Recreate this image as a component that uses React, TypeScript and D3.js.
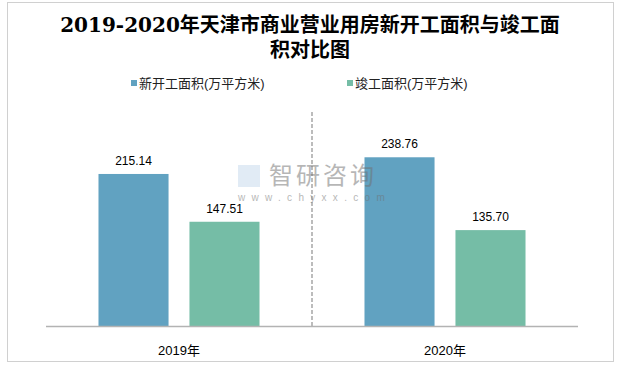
import { useRef, useEffect } from "react";
import * as d3 from "d3";

const years = ["2019年", "2020年"];
const seriesNames = ["新开工面积(万平方米)", "竣工面积(万平方米)"];
const newStarts = [215.14, 238.76];
const completed = [147.51, 135.7];
const colors = ["#61a2c1", "#75bda6"];

const title1 = "2019-2020年天津市商业营业用房新开工面积与竣工面";
const title2 = "积对比图";

const App = () => {
  const svgRef = useRef<SVGSVGElement>(null);

  useEffect(() => {
    const svg = d3.select(svgRef.current);
    svg.selectAll("*").remove();

    const width = 617;
    const height = 366;
    const margin = { top: 114, right: 39, bottom: 40, left: 46 };
    const innerWidth = width - margin.left - margin.right;
    const innerHeight = height - margin.top - margin.bottom;

    svg.attr("width", width).attr("height", height);

    // outer frame
    svg
      .append("rect")
      .attr("x", 7.5)
      .attr("y", 2.5)
      .attr("width", 606)
      .attr("height", 359)
      .attr("fill", "#fff")
      .attr("stroke", "#a0a0a0")
      .attr("stroke-dasharray", "1,1");

    const font = "'Liberation Sans', Arial, 'Noto Sans CJK SC', sans-serif";

    // title
    const title = svg
      .append("text")
      .attr("text-anchor", "middle")
      .attr("font-family", "'DejaVu Serif', 'Noto Sans CJK SC', serif")
      .attr("font-weight", 600)
      .attr("font-size", 20)
      .attr("fill", "#000");
    title.append("tspan").attr("x", 310).attr("y", 32).text(title1);
    title.append("tspan").attr("x", 310).attr("y", 57).text(title2);

    // legend
    const legendX = [131, 347];
    seriesNames.forEach((name, i) => {
      const g = svg.append("g").attr("transform", `translate(${legendX[i]}, 83)`);
      g.append("rect")
        .attr("x", 0)
        .attr("y", -3)
        .attr("width", 6)
        .attr("height", 6)
        .attr("fill", colors[i]);
      g.append("text")
        .attr("x", 8)
        .attr("y", 0)
        .attr("dy", "0.35em")
        .attr("font-family", font)
        .attr("font-size", 13)
        .attr("fill", "#222")
        .text(name);
    });

    const chart = svg
      .append("g")
      .attr("transform", `translate(${margin.left}, ${margin.top})`);

    const x0 = d3.scaleBand().domain(years).range([0, innerWidth]).padding(0);
    const x1 = d3
      .scaleBand()
      .domain(["0", "1"])
      .range([0, x0.bandwidth()])
      .paddingInner(0.23)
      .paddingOuter(0.577);
    const y = d3.scaleLinear().domain([0, 300]).range([innerHeight, 0]);

    // watermark
    const wm = svg.append("g").attr("opacity", 0.5);
    wm.append("rect")
      .attr("x", 238)
      .attr("y", 165)
      .attr("width", 22)
      .attr("height", 22)
      .attr("fill", "#9fbfe0")
      .attr("opacity", 0.6);
    wm.append("text")
      .attr("x", 269)
      .attr("y", 184)
      .attr("font-family", "'Noto Sans CJK SC', sans-serif")
      .attr("font-size", 24)
      .attr("fill", "#707070")
      .attr("letter-spacing", 3)
      .text("智研咨询");
    wm.append("text")
      .attr("x", 238)
      .attr("y", 201)
      .attr("font-family", font)
      .attr("font-size", 10)
      .attr("fill", "#707070")
      .attr("letter-spacing", 6.3)
      .text("www.chyxx.com");

    // separator dashed line
    chart
      .append("line")
      .attr("x1", x0.bandwidth())
      .attr("x2", x0.bandwidth())
      .attr("y1", -2)
      .attr("y2", innerHeight)
      .attr("stroke", "#a6a6a6")
      .attr("stroke-width", 1.5)
      .attr("stroke-dasharray", "4,2");

    const rows = years.map((yr, i) => ({ yr, values: [newStarts[i], completed[i]] }));

    const groups = chart
      .selectAll(".grp")
      .data(rows)
      .join("g")
      .attr("class", "grp")
      .attr("transform", (d) => `translate(${x0(d.yr)}, 0)`);

    groups
      .selectAll("rect")
      .data((d) => d.values.map((v, j) => ({ v, j })))
      .join("rect")
      .attr("x", (d) => x1(String(d.j))!)
      .attr("y", (d) => y(d.v))
      .attr("width", x1.bandwidth())
      .attr("height", (d) => innerHeight - y(d.v))
      .attr("fill", (d) => colors[d.j]);

    groups
      .selectAll(".val")
      .data((d) => d.values.map((v, j) => ({ v, j })))
      .join("text")
      .attr("class", "val")
      .attr("x", (d) => x1(String(d.j))! + x1.bandwidth() / 2)
      .attr("y", (d) => y(d.v) - 9)
      .attr("text-anchor", "middle")
      .attr("font-family", font)
      .attr("font-size", 12)
      .attr("fill", "#000")
      .text((d) => d.v.toFixed(2));

    // x axis
    chart
      .append("line")
      .attr("x1", 0)
      .attr("x2", innerWidth)
      .attr("y1", innerHeight + 0.5)
      .attr("y2", innerHeight + 0.5)
      .attr("stroke", "#b3b3b3")
      .attr("stroke-width", 1.5);

    chart
      .selectAll(".cat")
      .data(years)
      .join("text")
      .attr("class", "cat")
      .attr("x", (d) => x0(d)! + x0.bandwidth() / 2)
      .attr("y", innerHeight + 29)
      .attr("text-anchor", "middle")
      .attr("font-family", font)
      .attr("font-size", 13)
      .attr("fill", "#000")
      .text((d) => d);
  }, []);

  return (
    <svg
      ref={svgRef}
      style={{ position: "absolute", left: 0, top: 0, display: "block" }}
    ></svg>
  );
};

export default App;
